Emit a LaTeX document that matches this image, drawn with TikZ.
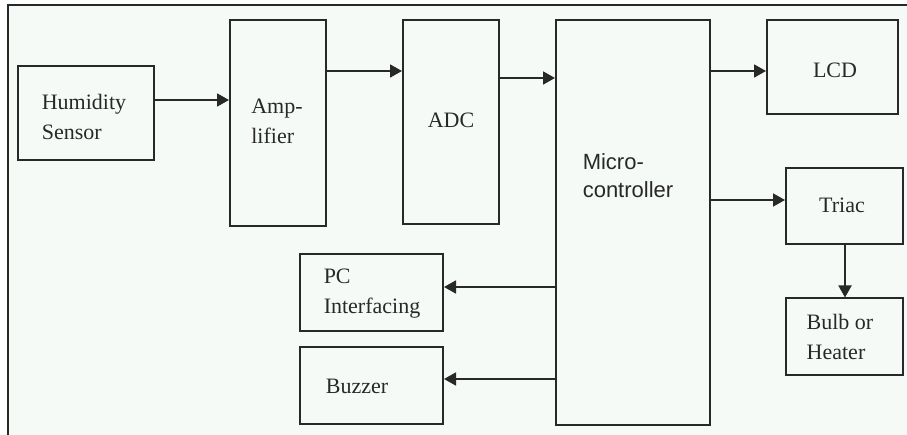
\documentclass[tikz,border=0pt]{standalone}
\usepackage{fontspec}
\setmainfont{Liberation Serif}
\newfontfamily\mcsans{Liberation Sans}
\usetikzlibrary{arrows.meta}
\definecolor{bgc}{RGB}{246,250,246}
\definecolor{ln}{RGB}{40,40,40}
\begin{document}
\begin{tikzpicture}[x=1pt,y=-1pt,
  box/.style={draw=ln, line width=2pt, fill=bgc, inner sep=0pt, font=\fontsize{22}{30}\selectfont, align=left, text=ln},
  lbl/.style={inner sep=0pt, font=\fontsize{22}{30}\selectfont, align=left, text=ln},
  arr/.style={draw=ln, line width=1.8pt, -{Triangle[length=12pt,width=13pt]}}]
\useasboundingbox (0,0) rectangle (907,435);
\fill[white] (0,0) rectangle (907,435);
\fill[bgc] (8,5) rectangle (907,435);
\draw[ln, line width=2pt] (8,435) -- (8,5) -- (907,5);
% boxes
\node[box, minimum width=136pt, minimum height=94pt] (hs) at (86,113) {};
\node[lbl] (hst) at (84,117) {Humidity\\Sensor};
\node[box, minimum width=96pt, minimum height=206pt] (amp) at (278,123) {};
\node[lbl] (ampt) at (277,121) {Amp-\\lifier};
\node[box, minimum width=96pt, minimum height=204pt] (adc) at (451,122) {};
\node[lbl] (adct) at (451,120) {ADC};
\node[box, minimum width=154pt, minimum height=405pt] (mc) at (633,222.5) {};
\node[lbl, font=\mcsans\fontsize{22}{28}\selectfont] (mct) at (628,176) {Micro-\\controller};
\node[box, minimum width=131pt, minimum height=94pt] (lcd) at (832.5,67) {};
\node[lbl] (lcdt) at (835,70) {LCD};
\node[box, minimum width=117pt, minimum height=76pt] (tri) at (844.5,206) {};
\node[lbl] (trit) at (842,205) {Triac};
\node[box, minimum width=117pt, minimum height=76pt] (bulb) at (844.5,336.5) {};
\node[lbl] (bulbt) at (840,337) {Bulb or\\Heater};
\node[box, minimum width=143pt, minimum height=77pt] (pc) at (371.5,293) {};
\node[lbl] (pct) at (372,294) {PC\\Interfacing};
\node[box, minimum width=143pt, minimum height=77pt] (buz) at (371.5,385.5) {};
\node[lbl] (buzt) at (357,386) {Buzzer};
% connectors
\draw[arr] (hs.east |- 0,100) -- (amp.west |- 0,100);
\draw[arr] (amp.east |- 0,71) -- (adc.west |- 0,71);
\draw[arr] (adc.east |- 0,78) -- (mc.west |- 0,78);
\draw[arr] (mc.east |- 0,71) -- (lcd.west |- 0,71);
\draw[arr] (mc.east |- 0,200) -- (tri.west |- 0,200);
\draw[arr] (tri.south -| 845,0) -- (bulb.north -| 845,0);
\draw[arr] (mc.west |- 0,287) -- (pc.east |- 0,287);
\draw[arr] (mc.west |- 0,379) -- (buz.east |- 0,379);
\end{tikzpicture}
\end{document}
